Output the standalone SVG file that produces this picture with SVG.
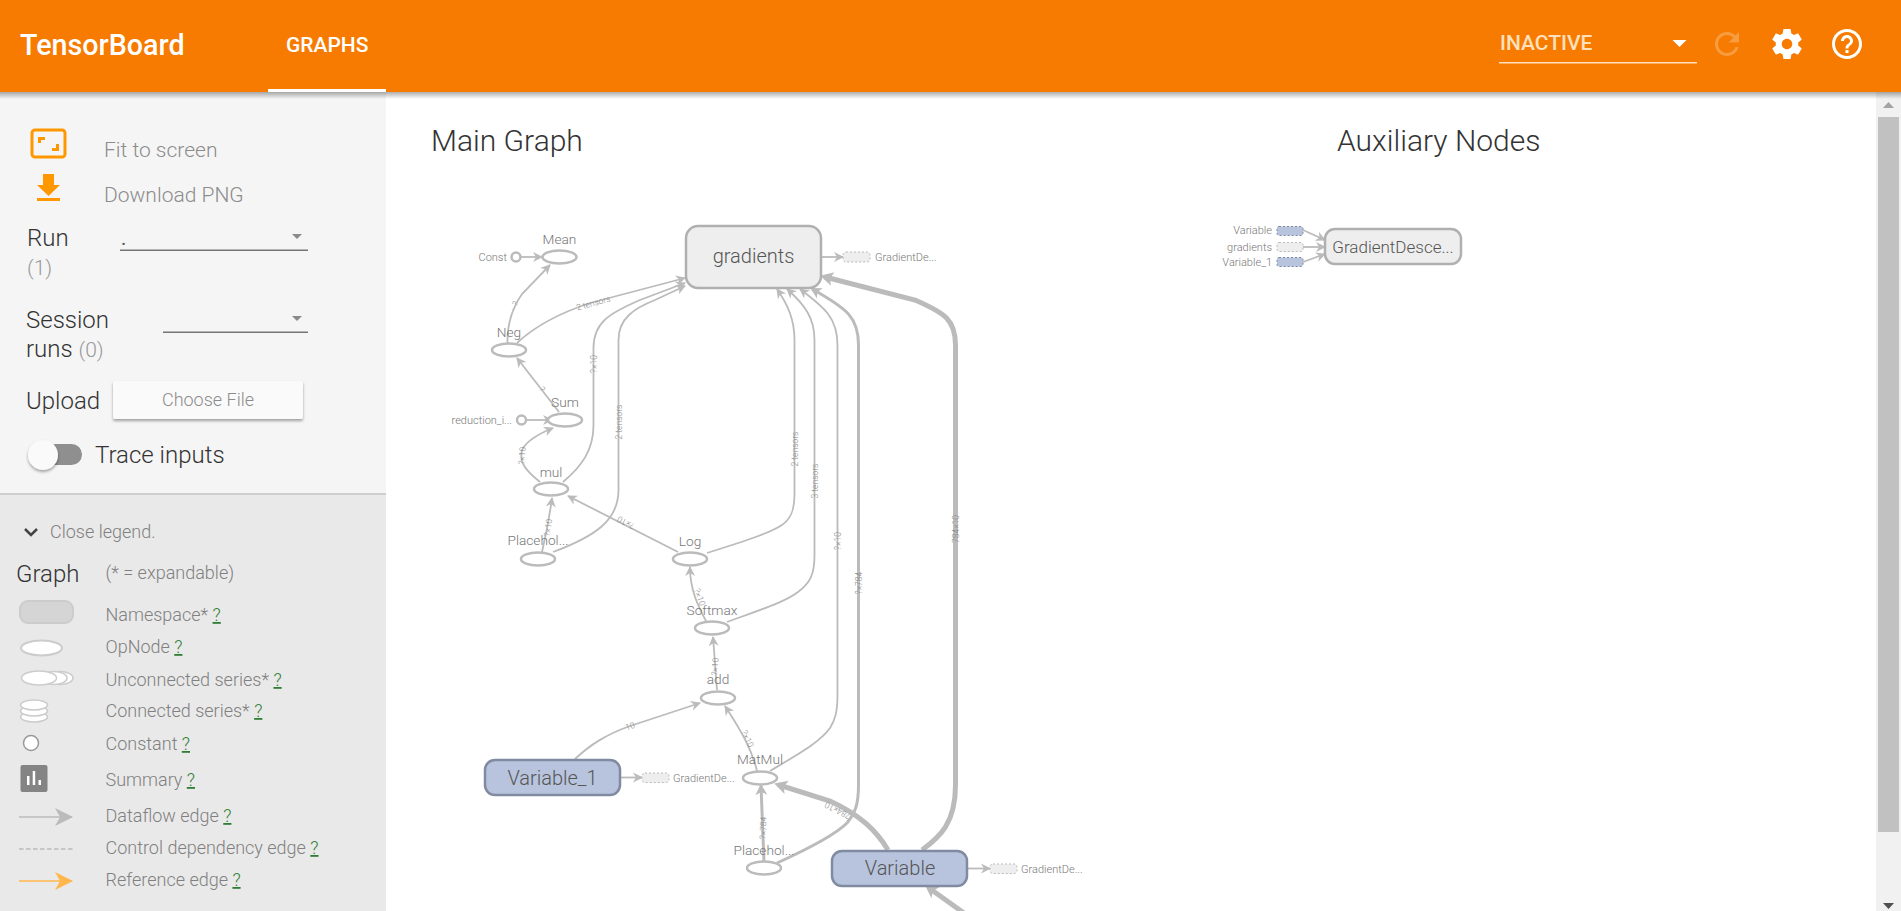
<svg xmlns="http://www.w3.org/2000/svg" width="1901" height="911" viewBox="0 0 1901 911">
<style>
text{font-family:Roboto,"Liberation Sans",sans-serif;font-weight:300}
.e{fill:none;stroke:#bbb;stroke-width:1.8;marker-end:url(#a1)}
.e3{fill:none;stroke:#bbb;stroke-width:3;marker-end:url(#a2)}
.e5{fill:none;stroke:#bbb;stroke-width:5;marker-end:url(#a3)}
.op{fill:#fff;stroke:#bbb;stroke-width:2.5}
.ns{fill:#eee;stroke:#b0b0b0;stroke-width:2.5}
.var{fill:#b8c4dd;stroke:#808aa0;stroke-width:2.5}
.dash{fill:#eee;stroke:#bbb;stroke-width:1;stroke-dasharray:2 2}
.dashv{fill:#b8c4dd;stroke:#808aa0;stroke-width:1;stroke-dasharray:2 2}
.nl{font-size:13.700px;fill:#777;text-anchor:middle}
.nb{font-size:20px;fill:#555;text-anchor:middle}
.sl{font-size:11px;fill:#777}
.el{font-size:8.500px;fill:#888;text-anchor:middle}
.tb{font-size:18px;fill:#808080}
.lg{font-size:24px;fill:#333}
.q{fill:#2e7d32;text-decoration:underline}
</style>
<defs>
<marker id="a1" markerUnits="userSpaceOnUse" markerWidth="12" markerHeight="12" refX="9" refY="6" orient="auto"><path d="M0,1 L10,6 L0,11 L3,6z" fill="#bbb"/></marker>
<marker id="a2" markerUnits="userSpaceOnUse" markerWidth="13" markerHeight="14" refX="9" refY="7" orient="auto"><path d="M0,1 L11,7 L0,13 L3,7z" fill="#bbb"/></marker>
<marker id="a3" markerUnits="userSpaceOnUse" markerWidth="16" markerHeight="16" refX="8" refY="8" orient="auto"><path d="M0,1 L13,8 L0,15 L3,8z" fill="#bbb"/></marker>
<marker id="lg1" markerUnits="userSpaceOnUse" markerWidth="18" markerHeight="18" refX="17" refY="9" orient="auto"><path d="M0,0 L18,9 L0,18 L5,9z" fill="#bbb"/></marker>
<marker id="lg2" markerUnits="userSpaceOnUse" markerWidth="18" markerHeight="18" refX="17" refY="9" orient="auto"><path d="M0,0 L18,9 L0,18 L5,9z" fill="#ffb74d"/></marker>
<linearGradient id="sh" x1="0" y1="0" x2="0" y2="1"><stop offset="0" stop-color="#000" stop-opacity=".32"/><stop offset="1" stop-color="#000" stop-opacity="0"/></linearGradient>
<filter id="ds" x="-20%" y="-20%" width="140%" height="150%"><feDropShadow dx="0" dy="2" stdDeviation="1.5" flood-color="#000" flood-opacity=".35"/></filter>
</defs>
<rect width="1901" height="911" fill="#fff"/>
<g id="scrollbar">
<rect x="1876" y="92" width="25" height="819" fill="#f1f1f1"/>
<path d="M1883 108 L1894 108 L1888.500 102z" fill="#a3a3a3"/>
<rect x="1878" y="117" width="21" height="715" fill="#c1c1c1"/>
<path d="M1883 903 L1894 903 L1888.500 909z" fill="#505050"/>
</g>
<g id="sidebar">
<rect x="0" y="92" width="386" height="401" fill="#f5f5f5"/>
<rect x="0" y="493" width="386" height="2" fill="#cfcfcf"/>
<rect x="0" y="495" width="386" height="416" fill="#e9e9e9"/>
<g id="fit-icon"><rect x="32" y="130" width="33" height="27" rx="3" fill="none" stroke="#ff9800" stroke-width="3"/><path d="M38 143 V137 H45 V140 H41 V143z M59 144 V151 H52 V148 H56 V144z" fill="#ff9800"/></g>
<text x="104" y="157" font-size="21" fill="#8c8c8c">Fit to screen</text>
<g id="download-icon"><path d="M43 174 H54 V185 H60 L48.500 196 L37 185 H43z M37 198 H60 V201 H37z" fill="#ff9800"/></g>
<text x="104" y="202" font-size="21" fill="#8c8c8c">Download PNG</text>
<text x="27" y="246" class="lg">Run</text>
<text x="27" y="275" font-size="21" fill="#999">(1)</text>
<text x="121" y="245" font-size="20" style="font-weight:400" fill="#555">.</text>
<rect x="120" y="249.500" width="188" height="1.500" fill="#757575"/>
<path d="M292 234 H302 L297 239z" fill="#8a8a8a"/>
<text x="26" y="328" class="lg">Session</text>
<text x="26" y="357" class="lg">runs <tspan font-size="21" fill="#999">(0)</tspan></text>
<rect x="163" y="331.500" width="145" height="1.500" fill="#757575"/>
<path d="M292 316 H302 L297 321z" fill="#8a8a8a"/>
<text x="26" y="409" class="lg">Upload</text>
<rect x="113" y="381" width="190" height="38" rx="2" fill="#fafafa" filter="url(#ds)"/>
<text x="208" y="406" font-size="18" fill="#8c8c8c" text-anchor="middle">Choose File</text>
<rect x="45" y="444" width="37" height="21" rx="10.500" fill="#8f8f8f"/>
<circle cx="43" cy="455" r="15" fill="#fafafa" filter="url(#ds)"/>
<text x="95" y="463" class="lg">Trace inputs</text>
<path d="M25 529 L31 535 L37 529" fill="none" stroke="#444" stroke-width="2.500"/>
<text x="50" y="538" font-size="18" fill="#808080">Close legend.</text>
<text x="16" y="582" class="lg">Graph</text>
<text x="105.500" y="579" class="tb">(* = expandable)</text>
<rect x="20" y="601" width="53" height="22" rx="8" fill="#d5d5d5" stroke="#ccc" stroke-width="2"/>
<text x="105.500" y="621" class="tb">Namespace* <tspan class="q">?</tspan></text>
<ellipse cx="41.500" cy="648" rx="20.500" ry="7.500" fill="#fff" stroke="#ccc" stroke-width="2"/>
<text x="105.500" y="653" class="tb">OpNode <tspan class="q">?</tspan></text>
<g fill="#fff" stroke="#ccc" stroke-width="1.500"><ellipse cx="60" cy="678" rx="13" ry="6.500"/><ellipse cx="54" cy="678" rx="13" ry="6.500"/><ellipse cx="39" cy="678" rx="17.500" ry="7"/></g>
<text x="105.500" y="686" class="tb">Unconnected series* <tspan class="q">?</tspan></text>
<g fill="#fff" stroke="#ccc" stroke-width="1.500"><ellipse cx="34" cy="717" rx="13.500" ry="5"/><ellipse cx="34" cy="711" rx="13.500" ry="5"/><ellipse cx="34" cy="705" rx="13.500" ry="5"/></g>
<text x="105.500" y="717" class="tb">Connected series* <tspan class="q">?</tspan></text>
<circle cx="31" cy="743" r="7.500" fill="#fff" stroke="#999" stroke-width="1.500"/>
<text x="105.500" y="750" class="tb">Constant <tspan class="q">?</tspan></text>
<rect x="20.500" y="765" width="27" height="27" rx="2" fill="#848484"/>
<path d="M27 776 H29.500 V785 H27z M32.700 771 H35.200 V785 H32.700z M38.500 780 H41 V785 H38.500z" fill="#fff"/>
<text x="105.500" y="786" class="tb">Summary <tspan class="q">?</tspan></text>
<path d="M19 817 H72" stroke="#bbb" stroke-width="1.500" marker-end="url(#lg1)"/>
<text x="105.500" y="822" class="tb">Dataflow edge <tspan class="q">?</tspan></text>
<path d="M19 849 H73" stroke="#bbb" stroke-width="1.500" stroke-dasharray="4.500 2.500"/>
<text x="105.500" y="854" class="tb">Control dependency edge <tspan class="q">?</tspan></text>
<path d="M19 881 H72" stroke="#ffb74d" stroke-width="1.500" marker-end="url(#lg2)"/>
<text x="105.500" y="886" class="tb">Reference edge <tspan class="q">?</tspan></text>
</g>
<g id="header">
<rect x="0" y="92" width="1901" height="7" fill="url(#sh)"/>
<rect width="1901" height="92" fill="#f67b00"/>
<rect x="268" y="89" width="118" height="3" fill="#fff"/>
<text x="20" y="55" font-size="28.700" style="font-weight:500" fill="#fff">TensorBoard</text>
<text x="286" y="52" font-size="21" style="font-weight:500" fill="#fff">GRAPHS</text>
<text x="1500" y="50" font-size="21" style="font-weight:500" fill="#ffe0bd">INACTIVE</text>
<rect x="1499" y="62" width="198" height="1.500" fill="#ffe0bd"/>
<path d="M1672.500 40 H1686.500 L1679.500 47z" fill="#fff"/>
<path transform="translate(1709,26) scale(1.5)" d="M17.650 6.350C16.200 4.900 14.210 4 12 4c-4.420 0-7.990 3.580-7.990 8s3.570 8 7.990 8c3.730 0 6.840-2.550 7.730-6h-2.080c-.82 2.330-3.040 4-5.650 4-3.310 0-6-2.690-6-6s2.690-6 6-6c1.660 0 3.140.69 4.220 1.780L13 11h7V4l-2.350 2.350z" fill="#fff" opacity=".25"/>
<path transform="translate(1769,26) scale(1.5)" d="M19.430 12.980c.04-.32.07-.64.07-.98s-.03-.66-.07-.98l2.110-1.650c.19-.15.24-.42.12-.64l-2-3.460c-.12-.22-.39-.3-.61-.22l-2.490 1c-.52-.4-1.080-.73-1.690-.98l-.38-2.650C14.460 2.180 14.250 2 14 2h-4c-.25 0-.46.18-.49.42l-.38 2.650c-.61.25-1.170.59-1.690.98l-2.490-1c-.23-.09-.49 0-.61.22l-2 3.460c-.13.22-.07.49.12.64l2.110 1.650c-.04.32-.07.65-.07.98s.03.66.07.98l-2.110 1.650c-.19.15-.24.42-.12.64l2 3.460c.12.22.39.3.61.22l2.490-1c.52.4 1.080.73 1.690.98l.38 2.650c.03.24.24.42.49.42h4c.25 0 .46-.18.49-.42l.38-2.650c.61-.25 1.170-.59 1.690-.98l2.490 1c.23.09.49 0 .61-.22l2-3.460c.12-.22.07-.49-.12-.64l-2.110-1.650zM12 15.500c-1.930 0-3.500-1.570-3.500-3.500s1.570-3.500 3.500-3.500 3.500 1.570 3.500 3.500-1.570 3.500-3.500 3.500z" fill="#fff"/>
<path transform="translate(1829,26) scale(1.5)" d="M11 18h2v-2h-2v2zm1-16C6.480 2 2 6.480 2 12s4.480 10 10 10 10-4.480 10-10S17.520 2 12 2zm0 18c-4.410 0-8-3.590-8-8s3.590-8 8-8 8 3.590 8 8-3.590 8-8 8zm0-14c-2.210 0-4 1.790-4 4h2c0-1.100.9-2 2-2s2 .9 2 2c0 2-3 1.750-3 5h2c0-2.250 3-2.500 3-5 0-2.210-1.790-4-4-4z" fill="#fff"/>
</g>
<text x="431" y="151" font-size="30" fill="#333">Main Graph</text>
<text x="1337" y="151" font-size="30" fill="#333">Auxiliary Nodes</text>
<g id="connectors">
<path class="e" d="M521 257 H542"/>
<path class="e" d="M507.500 343 C507 322 513 307 522 294 L550 265"/>
<path class="e" d="M517 343 C535 326 560 313 590 303 L685 278"/>
<path class="e" d="M563 482 C582 466 593.500 450 593.500 425 V348 C593.500 322 610 313 640 300 L685 283"/>
<path class="e" d="M553 552 C596 536 618.500 520 618.500 490 V340 C618.500 318 635 308 655 300 L685 286"/>
<path class="e" d="M707 553 C745 541 770 533 782 525 C791 519 794.500 510 794.500 495 V340 C794.500 320 788 305 777 289"/>
<path class="e" d="M727 622 C760 610 785 602 798 592 C810 583 814.500 575 814.500 555 V340 C814.500 318 805 305 787 289"/>
<path class="e" d="M770 771 C800 753 820 742 830 728 C835 720 837.500 712 837.500 695 V345 C837.500 318 825 308 800 289"/>
<path class="e3" d="M777 863 C810 848 835 835 847 823 C855 813 858.500 805 858.500 785 V345 C858.500 318 848 309 812 289"/>
<path class="e5" d="M922 850 C940 837 955.500 823 955.500 785 V345 C955.500 320 945 313 915 300 L825 277"/>
<path class="e5" d="M888 850 C876 830 860 815 830 801 L779 785"/>
<path class="e5" d="M975 921 L929 888"/>
<path class="e" d="M559 412 L517 358"/>
<path class="e" d="M526 420 H552"/>
<path class="e" d="M540 482 C525 470 519 462 522 450 C526 442 538 434 553 428"/>
<path class="e" d="M542 552 C546 535 549 520 552 498"/>
<path class="e" d="M678 552 L568 496"/>
<path class="e" d="M706 621 C698 606 690 590 690 567"/>
<path class="e" d="M717 690 L713 637"/>
<path class="e" d="M757 771 C752 750 742 732 725 706"/>
<path class="e" d="M575 759 C590 745 605 735 630 726 L700 703"/>
<path class="e3" d="M764 862 L761 786"/>
<path class="e" d="M821 257 H843"/>
<path class="e" d="M620 777.500 H642"/>
<path class="e" d="M967 868.500 H990"/>
<path class="e" d="M1303 230 L1325 240"/>
<path class="e" d="M1303 247 H1325"/>
<path class="e" d="M1303 262 L1325 254"/>
</g>
<g id="edge-labels">
<text class="el" transform="translate(518,305) rotate(-60)">?</text>
<text class="el" transform="translate(594,306) rotate(-15)">2 tensors</text>
<text class="el" transform="translate(597,364) rotate(-90)">?×10</text>
<text class="el" transform="translate(622,422) rotate(-90)">2 tensors</text>
<text class="el" transform="translate(798,449) rotate(-90)">2 tensors</text>
<text class="el" transform="translate(818,481) rotate(-90)">3 tensors</text>
<text class="el" transform="translate(841,541) rotate(-90)">?×10</text>
<text class="el" transform="translate(862,583) rotate(-90)">?×784</text>
<text class="el" transform="translate(959,529) rotate(-90)">784×10</text>
<text class="el" transform="translate(839,808) rotate(207)">784×10</text>
<text class="el" transform="translate(540,391) rotate(52)">?</text>
<text class="el" transform="translate(525,456) rotate(-85)">?×10</text>
<text class="el" transform="translate(551,528) rotate(-82)">?×10</text>
<text class="el" transform="translate(627,520) rotate(207)">?×10</text>
<text class="el" transform="translate(697,598) rotate(70)">?×10</text>
<text class="el" transform="translate(718,667) rotate(-85)">?×10</text>
<text class="el" transform="translate(745,740) rotate(65)">?×10</text>
<text class="el" transform="translate(631,729) rotate(-18)">10</text>
<text class="el" transform="translate(766,828) rotate(-88)">?×784</text>
</g>
<g id="n-Mean"><ellipse class="op" cx="559.500" cy="257" rx="17" ry="6.500"/><text class="nl" x="559.500" y="244">Mean</text></g>
<g id="n-Const"><circle class="op" cx="516" cy="257" r="4.500"/><text class="sl" x="507" y="261" text-anchor="end">Const</text></g>
<g id="n-Neg"><ellipse class="op" cx="509" cy="350" rx="17" ry="6.500"/><text class="nl" x="509" y="337">Neg</text></g>
<g id="n-Sum"><ellipse class="op" cx="565" cy="420" rx="17" ry="6.500"/><text class="nl" x="565" y="407">Sum</text></g>
<g id="n-reduction"><circle class="op" cx="521.500" cy="420" r="4.500"/><text class="sl" x="512" y="424" text-anchor="end">reduction_i...</text></g>
<g id="n-mul"><ellipse class="op" cx="551" cy="489" rx="17" ry="6.500"/><text class="nl" x="551" y="477">mul</text></g>
<g id="n-Placeholder1"><ellipse class="op" cx="538" cy="559" rx="17" ry="6.500"/><text class="nl" x="538" y="545">Placehol...</text></g>
<g id="n-Log"><ellipse class="op" cx="690" cy="559" rx="17" ry="6.500"/><text class="nl" x="690" y="546">Log</text></g>
<g id="n-Softmax"><ellipse class="op" cx="712" cy="628" rx="17" ry="6.500"/><text class="nl" x="712" y="615">Softmax</text></g>
<g id="n-add"><ellipse class="op" cx="718" cy="698" rx="17" ry="6.500"/><text class="nl" x="718" y="684">add</text></g>
<g id="n-MatMul"><ellipse class="op" cx="760" cy="778" rx="17" ry="6.500"/><text class="nl" x="760" y="764">MatMul</text></g>
<g id="n-Placeholder2"><ellipse class="op" cx="764" cy="868" rx="17" ry="6.500"/><text class="nl" x="764" y="855">Placehol...</text></g>
<g id="n-gradients"><rect class="ns" x="686" y="226" width="135" height="62" rx="12"/><text class="nb" x="753.500" y="263">gradients</text>
<rect class="dash" x="843" y="252" width="27" height="10" rx="3"/><text class="sl" x="875" y="261">GradientDe...</text></g>
<g id="n-Variable_1"><rect class="var" x="485" y="760" width="135" height="35" rx="10"/><text class="nb" x="552.500" y="785">Variable_1</text>
<rect class="dash" x="642" y="773" width="27" height="9.500" rx="3"/><text class="sl" x="673" y="782">GradientDe...</text></g>
<g id="n-Variable"><rect class="var" x="832" y="851" width="135" height="35" rx="10"/><text class="nb" x="900" y="875">Variable</text>
<rect class="dash" x="990" y="864" width="27" height="9.500" rx="3"/><text class="sl" x="1021" y="873">GradientDe...</text></g>
<g id="n-GradientDescent"><rect class="ns" x="1325" y="229" width="136" height="35" rx="10"/><text class="nb" style="font-size:17px" x="1393" y="253">GradientDesce...</text></g>
<g id="aux-inputs">
<rect class="dashv" x="1277" y="226.500" width="26" height="9" rx="2"/><text class="sl" x="1272" y="234" text-anchor="end">Variable</text>
<rect class="dash" x="1277" y="242.500" width="26" height="9" rx="2"/><text class="sl" x="1272" y="251" text-anchor="end">gradients</text>
<rect class="dashv" x="1277" y="257.500" width="26" height="9" rx="2"/><text class="sl" x="1272" y="266" text-anchor="end">Variable_1</text>
</g>
</svg>
